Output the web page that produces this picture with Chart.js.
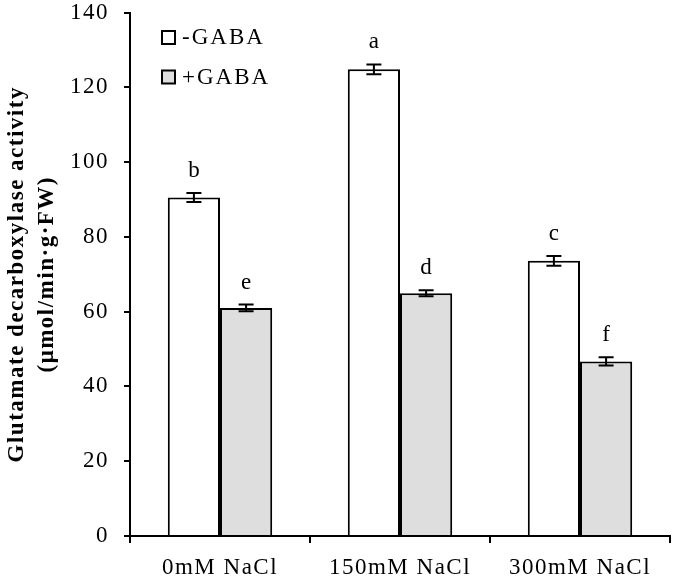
<!DOCTYPE html>
<html>
<head>
<meta charset="utf-8">
<script src="https://cdn.jsdelivr.net/npm/chart.js@4"></script>
<style>
  html, body { margin: 0; padding: 0; background: #fff; }
  #wrap { width: 675px; height: 581px; }
</style>
</head>
<body>
<div id="wrap"><canvas id="chart" width="675" height="581"></canvas></div>
<script>
// ── Datos ──
const categorias  = ['0mM NaCl', '150mM NaCl', '300mM NaCl'];
const sinGABA     = [90.5, 124.8, 73.6];
const conGABA     = [61.0, 64.9, 46.7];
const errSinGABA  = [1.2, 1.3, 1.3];
const errConGABA  = [0.9, 0.8, 1.1];
const letrasSin   = ['b', 'a', 'c'];
const letrasCon   = ['e', 'd', 'f'];
const yTicks      = [0, 20, 40, 60, 80, 100, 120, 140];
const etiquetasLeyenda = ['-GABA', '+GABA'];

const SERIF = '"Liberation Serif", "Times New Roman", serif';
const GRIS  = '#dedede';
const ESPACIADO = '1.5px';

// ── Espaciado de letras (la figura original tiene texto algo ancho) ──
const espaciado = {
  id: 'espaciado',
  beforeInit(chart) { chart.ctx.letterSpacing = ESPACIADO; },
  beforeUpdate(chart) { chart.ctx.letterSpacing = ESPACIADO; },
  beforeDraw(chart) { chart.ctx.letterSpacing = ESPACIADO; }
};

// ── Barras de error y letras ──
const errorBars = {
  id: 'errorBars',
  afterDatasetsDraw(chart) {
    const ctx = chart.ctx;
    const y = chart.scales.y;
    const errs = [errSinGABA, errConGABA];
    const letras = [letrasSin, letrasCon];
    ctx.save();
    ctx.strokeStyle = '#000';
    ctx.lineWidth = 2;
    ctx.fillStyle = '#000';
    ctx.font = `23px ${SERIF}`;
    ctx.letterSpacing = '0px';
    ctx.textAlign = 'center';
    ctx.textBaseline = 'alphabetic';
    chart.data.datasets.forEach((ds, i) => {
      const meta = chart.getDatasetMeta(i);
      meta.data.forEach((bar, j) => {
        const v = ds.data[j], e = errs[i][j];
        const yHi = y.getPixelForValue(v + e);
        const yLo = y.getPixelForValue(v - e);
        const x = bar.x;
        ctx.beginPath();
        ctx.moveTo(x, yHi); ctx.lineTo(x, yLo);
        ctx.moveTo(x - 7.5, yHi); ctx.lineTo(x + 7.5, yHi);
        ctx.moveTo(x - 7.5, yLo); ctx.lineTo(x + 7.5, yLo);
        ctx.stroke();
        ctx.fillText(letras[i][j], x, yHi - 16);
      });
    });
    ctx.restore();
  }
};

// ── Leyenda dentro del área ──
const leyenda = {
  id: 'leyendaInterna',
  afterDraw(chart) {
    const ctx = chart.ctx;
    const a = chart.chartArea;
    const fills = ['#ffffff', GRIS];
    ctx.save();
    ctx.font = `23px ${SERIF}`;
    ctx.letterSpacing = '2px';
    ctx.textBaseline = 'middle';
    ctx.textAlign = 'left';
    etiquetasLeyenda.forEach((txt, i) => {
      const bx = a.left + 32, by = a.top + 18.5 + i * 39.5;
      ctx.fillStyle = fills[i];
      ctx.fillRect(bx, by, 13, 13);
      ctx.strokeStyle = '#000';
      ctx.lineWidth = 2;
      ctx.strokeRect(bx, by, 13, 13);
      ctx.fillStyle = '#000';
      ctx.fillText(txt, bx + 20, by + 7);
    });
    ctx.restore();
  }
};

new Chart(document.getElementById('chart'), {
  type: 'bar',
  data: {
    labels: categorias,
    datasets: [
      { label: etiquetasLeyenda[0], data: sinGABA, backgroundColor: '#ffffff',
        borderColor: '#000', borderWidth: 2 },
      { label: etiquetasLeyenda[1], data: conGABA, backgroundColor: GRIS,
        borderColor: '#000', borderWidth: 2 }
    ]
  },
  options: {
    responsive: false,
    animation: false,
    layout: { padding: { left: 0, right: 5, top: 0, bottom: 0 } },
    datasets: { bar: { categoryPercentage: 0.58, barPercentage: 1.0 } },
    plugins: { legend: { display: false }, tooltip: { enabled: false } },
    scales: {
      x: {
        grid: { display: true, drawOnChartArea: false, offset: true, color: '#000',
                lineWidth: 2, tickLength: 7 },
        border: { display: true, color: '#000', width: 2 },
        ticks: { color: '#000', font: { family: SERIF, size: 23 }, padding: 11 },
        afterFit: s => { s.height = 45; }
      },
      y: {
        min: 0, max: 140,
        afterBuildTicks: s => { s.ticks = yTicks.map(v => ({ value: v })); },
        grid: { display: true, drawOnChartArea: false, color: '#000', lineWidth: 2, tickLength: 6 },
        border: { display: true, color: '#000', width: 2 },
        ticks: { color: '#000', font: { family: SERIF, size: 23 }, padding: 15 },
        title: {
          display: true,
          text: ['Glutamate decarboxylase activity', '(\u03bcmol/min\u00b7g\u00b7FW)'],
          color: '#000',
          font: { family: SERIF, size: 23, weight: 'bold', lineHeight: 1.3 },
          padding: { top: 2, bottom: 0 }
        },
        afterFit: s => { s.width = 130; s.paddingTop = 12.5; s.paddingBottom = 0; }
      }
    }
  },
  plugins: [espaciado, errorBars, leyenda]
});
</script>
</body>
</html>
